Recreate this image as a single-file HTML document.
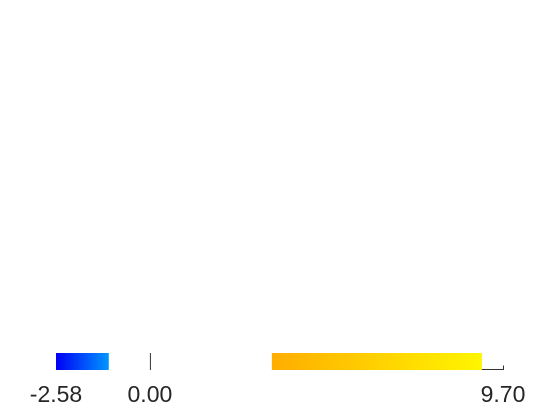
<!DOCTYPE html>
<html><head><meta charset="utf-8"><style>
html,body{margin:0;padding:0;background:#fff;}
svg{display:block;font-family:"Liberation Sans",sans-serif;}
</style></head><body>
<svg width="560" height="420">
<defs>
<linearGradient id="gb" x1="0" x2="1" y1="0" y2="0"><stop offset="0" stop-color="#0000f5"/><stop offset="1" stop-color="#0096ff"/></linearGradient>
<linearGradient id="go" x1="0" x2="1" y1="0" y2="0"><stop offset="0" stop-color="#ffad00"/><stop offset="1" stop-color="#fff500"/></linearGradient>
</defs>
<g id="g"></g>
</svg>
<script>
const segStarts = [-2.58, 3.35];
const segEnds = [-1.13, 9.12];
const segFills = ['url(#gb)', 'url(#go)'];
const tickValues = [-2.58, 0.00, 9.70];
const tickLabels = ['-2.58', '0.00', '9.70'];
const dMin = -2.58, dMax = 9.70;
function xs(v){ return 56 + (v - dMin) / (dMax - dMin) * (503 - 56); }
const g = document.getElementById('g');
const NS = 'http://www.w3.org/2000/svg';
for (let i = 0; i < segStarts.length; i++) {
  const r = document.createElementNS(NS, 'rect');
  r.setAttribute('x', xs(segStarts[i]));
  r.setAttribute('y', 353);
  r.setAttribute('width', xs(segEnds[i]) - xs(segStarts[i]));
  r.setAttribute('height', 17);
  r.setAttribute('fill', segFills[i]);
  
  
  g.appendChild(r);
}
// zero marker
const z = document.createElementNS(NS, 'line');
z.setAttribute('x1', xs(0) + 0.5); z.setAttribute('x2', xs(0) + 0.5);
z.setAttribute('y1', 353); z.setAttribute('y2', 370);
z.setAttribute('stroke', '#333'); z.setAttribute('stroke-width', 1);


g.appendChild(z);
// bracket after last segment
const p = document.createElementNS(NS, 'path');
const x1 = xs(segEnds[segEnds.length - 1]), x2 = xs(dMax);
p.setAttribute('d', 'M' + x1 + ' 369.5 H' + (x2 + 0.5) + ' V365.5');
p.setAttribute('fill', 'none'); p.setAttribute('stroke', '#333'); p.setAttribute('stroke-width', 1);


g.appendChild(p);
for (let i = 0; i < tickValues.length; i++) {
  const t = document.createElementNS(NS, 'text');
  t.setAttribute('x', xs(tickValues[i]));
  t.setAttribute('y', 402);
  t.setAttribute('text-anchor', 'middle');
  t.setAttribute('font-size', '23');
  t.setAttribute('fill', '#262626');
  t.textContent = tickLabels[i];
  
  
  g.appendChild(t);
}
</script>
</body></html>
